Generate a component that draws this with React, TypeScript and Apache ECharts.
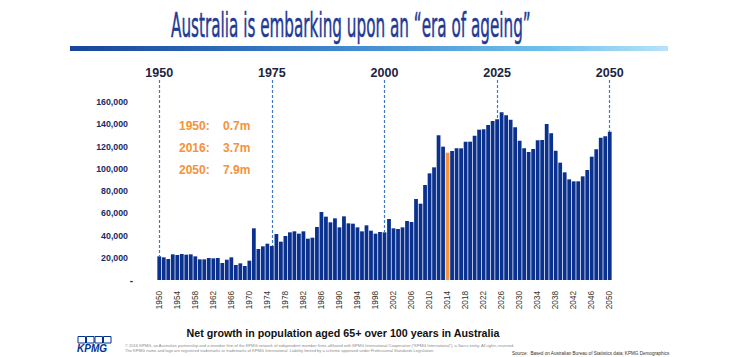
import React, { useEffect, useRef } from 'react';
import * as echarts from 'echarts';

// ---------- data ----------
const years: string[] = [];
for (let y = 1950; y <= 2050; y++) years.push(String(y));

const netGrowth: number[] = [
  21300, 20400, 18900, 23100, 22500, 23400, 22800, 23100, 21300, 18600,
  18600, 19800, 19500, 19800, 15300, 18300, 20400, 13500, 15000, 12600,
  17400, 46500, 27900, 30300, 32700, 30600, 41400, 34500, 39600, 42900,
  43800, 41700, 43800, 37200, 38100, 47700, 61200, 57000, 51900, 55500,
  47400, 57300, 51000, 50700, 47400, 43800, 49200, 44400, 41700, 43200,
  42900, 54900, 46500, 45900, 47400, 53100, 52200, 72900, 68700, 85500,
  96000, 101400, 130200, 120000, 114600, 116100, 118500, 118500, 124500, 124500,
  129900, 135300, 135600, 139500, 143100, 144600, 150900, 148200, 144300, 137400,
  125400, 118500, 115200, 117900, 125700, 126000, 140400, 132000, 116400, 105600,
  96900, 90600, 88800, 88800, 93300, 99000, 111000, 117600, 128100, 129300,
  133500,
];

const highlightYear = '2014';
const markerYears: string[] = ['1950', '1975', '2000', '2025', '2050'];
const annotationYears: string[] = ['1950:', '2016:', '2050:'];
const annotationValues: string[] = ['0.7m', '3.7m', '7.9m'];

const titleText = 'Australia is embarking upon an \u201Cera of ageing\u201D';
const captionText = 'Net growth in population aged 65+ over 100 years in Australia';
const finePrint1 =
  '\u00A9 2016 KPMG, an Australian partnership and a member firm of the KPMG network of independent member firms affiliated with KPMG International Cooperative (\u201CKPMG International\u201D), a Swiss entity. All rights reserved.';
const finePrint2 =
  'The KPMG name and logo are registered trademarks or trademarks of KPMG International. Liability limited by a scheme approved under Professional Standards Legislation.';
const sourceText = 'Source:  Based on Australian Bureau of Statistics data; KPMG Demographics';

const FONT = '"Liberation Sans", Arial, Helvetica, sans-serif';
const TITLE_FONT_FAMILY = '"Liberation Sans Narrow", "DejaVu Sans Condensed", "Liberation Sans", sans-serif';

function measure(text: string, font: string): number {
  const c = document.createElement('canvas');
  const ctx = c.getContext('2d');
  if (!ctx) return 500;
  ctx.font = font;
  return ctx.measureText(text).width;
}

export default function App() {
  const ref = useRef<HTMLDivElement>(null);

  useEffect(() => {
    document.body.style.margin = '0';
    document.body.style.overflow = 'hidden';
    if (!ref.current) return;
    const chart = echarts.init(ref.current, undefined, { renderer: 'svg' });

    const titleFont = `34px ${TITLE_FONT_FAMILY}`;
    const titleW = measure(titleText, titleFont);
    const titleTargetW = 360;
    const titleScale = titleTargetW / titleW;

    const barData = netGrowth.map((v, i) =>
      years[i] === highlightYear ? { value: v, itemStyle: { color: '#f5923a' } } : v
    );

    const markData = markerYears.map((y) => [
      { coord: [y, 180000], name: y },
      { coord: [y, netGrowth[years.indexOf(y)]] },
    ]);

    const graphics: any[] = [
      {
        type: 'text',
        x: 171,
        y: 25,
        scaleX: titleScale,
        style: {
          text: titleText,
          font: titleFont,
          fill: '#1f3a96',
          stroke: '#1f3a96',
          lineWidth: 0.5,
          textVerticalAlign: 'middle',
          textAlign: 'left',
        },
      },
      {
        type: 'rect',
        shape: { x: 70, y: 46, width: 598, height: 5 },
        style: {
          fill: new echarts.graphic.LinearGradient(0, 0, 1, 0, [
            { offset: 0, color: '#17449a' },
            { offset: 0.45, color: '#3f87cf' },
            { offset: 0.8, color: '#70c1ec' },
            { offset: 1, color: '#b7e3f8' },
          ]),
        },
      },
    ];

    annotationYears.forEach((t, i) => {
      graphics.push({
        type: 'text',
        x: 179,
        y: 126 + i * 22,
        style: { text: t, font: `bold 12px ${FONT}`, fill: '#f5923a', textVerticalAlign: 'middle' },
      });
      graphics.push({
        type: 'text',
        x: 223,
        y: 126 + i * 22,
        style: { text: annotationValues[i], font: `bold 12px ${FONT}`, fill: '#f5923a', textVerticalAlign: 'middle' },
      });
    });

    graphics.push({
      type: 'text',
      x: 343,
      y: 333,
      style: {
        text: captionText,
        font: `bold 10.7px ${FONT}`,
        fill: '#111',
        textAlign: 'center',
        textVerticalAlign: 'middle',
      },
    });

    // KPMG logo
    [0, 1, 2, 3].forEach((k) => {
      graphics.push({
        type: 'rect',
        shape: { x: 78 + k * 8.5, y: 336.5, width: 7.5, height: 6.5 },
        style: { fill: 'none', stroke: '#00338d', lineWidth: 1 },
      });
    });
    graphics.push({
      type: 'text',
      x: 77,
      y: 348.5,
      style: {
        text: 'KPMG',
        font: `italic bold 10px ${FONT}`,
        fill: '#00338d',
        textVerticalAlign: 'middle',
      },
    });

    graphics.push({
      type: 'text',
      x: 125,
      y: 345,
      style: { text: finePrint1, font: `4.05px ${FONT}`, fill: '#8a8a8a', textVerticalAlign: 'middle' },
    });
    graphics.push({
      type: 'text',
      x: 125,
      y: 350.5,
      style: { text: finePrint2, font: `4.05px ${FONT}`, fill: '#8a8a8a', textVerticalAlign: 'middle' },
    });
    graphics.push({
      type: 'text',
      x: 512,
      y: 353.5,
      style: { text: sourceText, font: `4.6px ${FONT}`, fill: '#333', textVerticalAlign: 'middle' },
    });

    const option: any = {
      animation: false,
      backgroundColor: '#ffffff',
      grid: { left: 157, right: 128, top: 80, bottom: 77 },
      xAxis: {
        type: 'category',
        data: years,
        axisLine: { show: false },
        axisTick: { show: false },
        axisLabel: {
          interval: 3,
          rotate: 90,
          fontSize: 8.2,
          color: '#333333',
          margin: 11,
          fontFamily: FONT,
        },
      },
      yAxis: {
        type: 'value',
        min: 0,
        max: 180000,
        interval: 20000,
        splitLine: { show: false },
        axisLine: { show: false },
        axisTick: { show: false },
        axisLabel: {
          margin: 24,
          fontFamily: FONT,
          formatter: (v: number) =>
            v === 0 ? '{z|-}' : v > 160000 ? '' : '{n|' + v.toLocaleString('en-US') + '}',
          rich: {
            n: { fontSize: 8.8, fontWeight: 'bold', color: '#1b2b66', fontFamily: FONT, padding: [0, 5, 0, 0] },
            z: { fontSize: 10, fontWeight: 'bold', color: '#1b2b66', fontFamily: FONT },
          },
        },
      },
      series: [
        {
          type: 'bar',
          data: barData,
          barCategoryGap: '16%',
          itemStyle: { color: '#0b318f' },
          markLine: {
            silent: true,
            symbol: ['none', 'none'],
            lineStyle: { type: [3, 2], color: '#3b7dc4', width: 1.2 },
            label: {
              show: true,
              position: 'start',
              distance: 1,
              formatter: '{b}',
              fontSize: 12.5,
              fontWeight: 'bold',
              color: '#1c2340',
              fontFamily: FONT,
            },
            emphasis: { disabled: true },
            data: markData,
          },
        },
      ],
      graphic: graphics,
    };

    chart.setOption(option);
    return () => chart.dispose();
  }, []);

  return <div ref={ref} style={{ width: 740, height: 357 }} />;
}
